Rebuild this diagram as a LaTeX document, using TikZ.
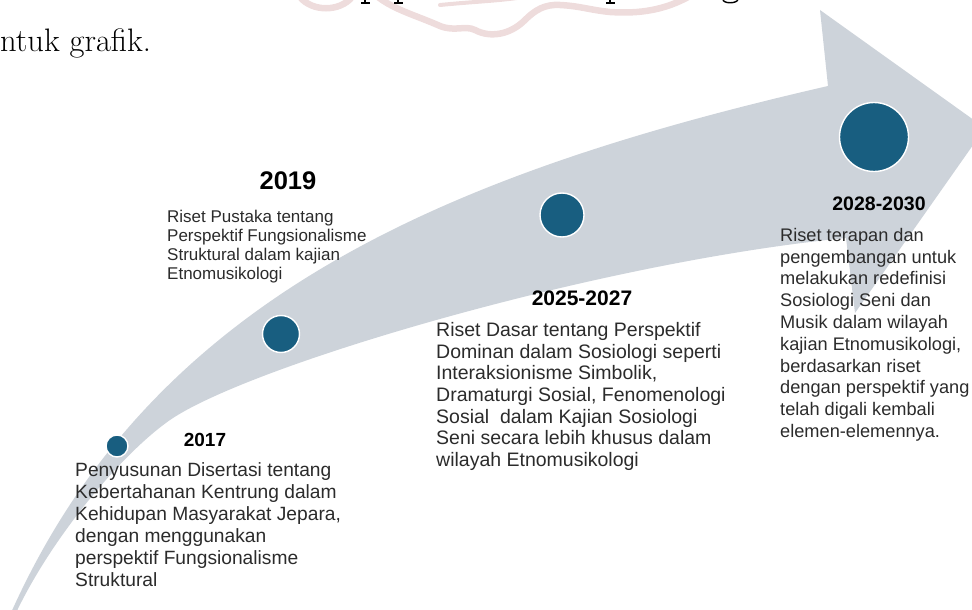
\documentclass[tikz,border=0pt]{standalone}
\usepackage{fontspec}
\newfontfamily\descf{Liberation Sans}
\definecolor{bandgray}{HTML}{CDD3DA}
\definecolor{dotblue}{HTML}{185E80}
\definecolor{txtgray}{HTML}{2B2B2B}
\definecolor{wmpink}{HTML}{EEDCDC}
\tikzset{
  band/.style={fill=bandgray},
  dotnode/.style={circle, fill=dotblue, draw=white, line width=1.4pt, inner sep=0},
  yearlbl/.style={anchor=center, inner sep=0, text=black, font=\descf\bfseries\fontsize{#1}{#1}\selectfont},
  desclbl/.style={anchor=north west, align=left, inner sep=0, text=txtgray, font=\descf\fontsize{#1}{22}\selectfont},
  toptext/.style={inner sep=0, text=black, font=\fontsize{32.5}{32.5}\selectfont},
  wmark/.style={draw=wmpink, line width=6.5pt, line cap=round},
  descstroke/.style={draw=black, line width=1.4pt}
}
\begin{document}
\begin{tikzpicture}[x=1pt,y=-1pt]
\useasboundingbox (0,0) rectangle (972,610);
% watermark fragment
\draw[wmark] (300,-3) .. controls (312,12) and (340,12) .. (352,-3);
\draw[wmark] (378,-3) .. controls (395,10) and (415,15) .. (440,26) .. controls (455,32) and (465,25) .. (475,30) .. controls (490,38) and (510,35) .. (525,20) .. controls (535,10) and (545,4) .. (560,5) .. controls (580,6) and (590,10) .. (610,12) .. controls (640,14) and (665,10) .. (690,-4);
\draw[wmark, line width=4pt] (440,5) .. controls (470,2) and (495,1) .. (517,-2);
% cut-off text line above (only descenders visible)
\node[toptext, anchor=base west] (tline) at (0,52) {ntuk grafik.};
\draw[descstroke] (365,-1) -- (365,3) (361,3.2) -- (370,3.2);
\draw[descstroke] (398,-1) -- (398,3) (394,3.2) -- (403,3.2);
\draw[descstroke] (610,-1) -- (610,3) (606,3.2) -- (615,3.2);
\draw[descstroke] (723,-1) .. controls (722,4) and (738,4) .. (738,-1);
% curved arrow
\fill[band] (10,615) .. controls (150,300) and (440,175) .. (828,86)
  -- (820,10) -- (985,128) -- (855,313) -- (846,238)
  .. controls (600,262) and (250,365) .. (170,420)
  .. controls (120,455) and (50,540) .. (15,615) -- cycle;
% milestones
\node[dotnode, minimum size=22] (c2017) at (117,446) {};
\node[dotnode, minimum size=37] (c2019) at (281,334) {};
\node[dotnode, minimum size=44] (c2025) at (562,215) {};
\node[dotnode, minimum size=69] (c2028) at (874,137) {};
% years
\node[yearlbl=19] (y2017) at (205,440) {2017};
\node[yearlbl=25.5] (y2019) at (288,181) {2019};
\node[yearlbl=21] (y2025) at (582,298) {2025-2027};
\node[yearlbl=19.5] (y2028) at (879,204) {2028-2030};
% descriptions
\node[desclbl=19.2] (t2017) at (75,462) {Penyusunan Disertasi tentang\\Kebertahanan Kentrung dalam\\Kehidupan Masyarakat Jepara,\\dengan menggunakan\\perspektif Fungsionalisme\\Struktural};
\node[desclbl=17, font=\descf\fontsize{17}{19}\selectfont] (t2019) at (167,210) {Riset Pustaka tentang\\Perspektif Fungsionalisme\\Struktural dalam kajian\\Etnomusikologi};
\node[desclbl=19.5, font=\descf\fontsize{19.5}{21.7}\selectfont] (t2025) at (436,322) {Riset Dasar tentang Perspektif\\Dominan dalam Sosiologi seperti\\Interaksionisme Simbolik,\\Dramaturgi Sosial, Fenomenologi\\Sosial\ \ dalam Kajian Sosiologi\\Seni secara lebih khusus dalam\\wilayah Etnomusikologi};
\node[desclbl=18.2, font=\descf\fontsize{18.2}{21.8}\selectfont] (t2028) at (780,228) {Riset terapan dan\\pengembangan untuk\\melakukan redefinisi\\Sosiologi Seni dan\\Musik dalam wilayah\\kajian Etnomusikologi,\\berdasarkan riset\\dengan perspektif yang\\telah digali kembali\\elemen-elemennya.};
\end{tikzpicture}
\end{document}
